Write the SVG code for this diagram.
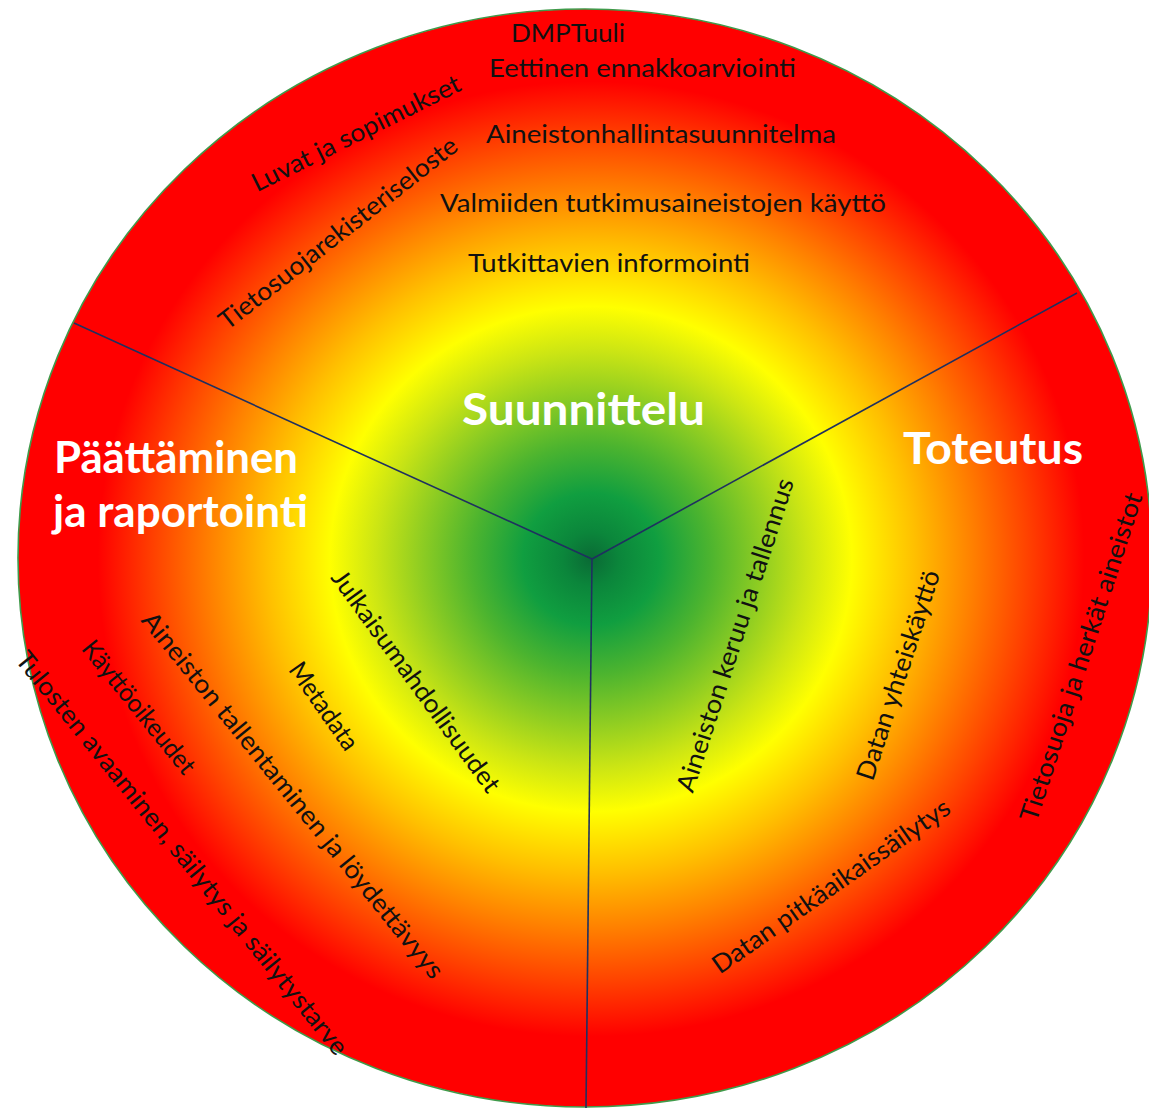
<svg xmlns="http://www.w3.org/2000/svg" width="1149" height="1108" viewBox="0 0 1149 1108">
  <defs>
    <radialGradient id="wheelGrad" gradientUnits="userSpaceOnUse" cx="0" cy="0" r="1" gradientTransform="translate(591 559) scale(567 549)">
      <stop offset="0" stop-color="#0a6a35"/>
      <stop offset="0.05" stop-color="#0b863b"/>
      <stop offset="0.12" stop-color="#109e40"/>
      <stop offset="0.21" stop-color="#4cb42f"/>
      <stop offset="0.3" stop-color="#8fcd22"/>
      <stop offset="0.38" stop-color="#cbe514"/>
      <stop offset="0.46" stop-color="#ffff00"/>
      <stop offset="0.57" stop-color="#ffc000"/>
      <stop offset="0.67" stop-color="#ff8200"/>
      <stop offset="0.77" stop-color="#ff4200"/>
      <stop offset="0.87" stop-color="#ff0000"/>
      <stop offset="1" stop-color="#ff0000"/>
    </radialGradient>
    <style>
      .t { font-family: Lato, "Open Sans", "Liberation Sans", sans-serif; font-size: 25.5px; fill: #111111; }
      .r { text-anchor: middle; }
      .title { font-family: Lato, "Open Sans", "Liberation Sans", sans-serif; font-size: 43px; font-weight: bold; fill: #ffffff; }
      .sep { stroke: #1f3060; stroke-width: 1.6; fill: none; }
    </style>
  </defs>

  <g id="wheel">
    <ellipse cx="585" cy="558" rx="567" ry="549" fill="url(#wheelGrad)" stroke="#3f9a4a" stroke-width="1.6"/>
  </g>

  <g id="connectors">
    <line class="sep" x1="592" y1="559" x2="74" y2="323"/>
    <line class="sep" x1="592" y1="559" x2="1077" y2="293"/>
    <line class="sep" x1="592" y1="559" x2="586" y2="1108"/>
  </g>

  <g id="suunnittelu">
    <text class="title" x="462" y="425" textLength="243" lengthAdjust="spacingAndGlyphs">Suunnittelu</text>
    <text class="t" x="511" y="42" textLength="114" lengthAdjust="spacingAndGlyphs">DMPTuuli</text>
    <text class="t" x="489" y="77" textLength="307" lengthAdjust="spacingAndGlyphs">Eettinen ennakkoarviointi</text>
    <text class="t" x="486" y="143" textLength="350" lengthAdjust="spacingAndGlyphs">Aineistonhallintasuunnitelma</text>
    <text class="t" x="440" y="212" textLength="446" lengthAdjust="spacingAndGlyphs">Valmiiden tutkimusaineistojen käyttö</text>
    <text class="t" x="468" y="272" textLength="282" lengthAdjust="spacingAndGlyphs">Tutkittavien informointi</text>
    <text class="t r" transform="translate(356 133) rotate(-26.5)" x="0" y="0" dy="0.35em" textLength="230" lengthAdjust="spacingAndGlyphs">Luvat ja sopimukset</text>
    <text class="t r" transform="translate(338 233) rotate(-38)" x="0" y="0" dy="0.35em" textLength="295" lengthAdjust="spacingAndGlyphs">Tietosuojarekisteriseloste</text>
  </g>

  <g id="toteutus">
    <text class="title" x="903" y="464" textLength="180" lengthAdjust="spacingAndGlyphs">Toteutus</text>
    <text class="t r" transform="translate(735 635) rotate(-72)" x="0" y="0" dy="0.35em" textLength="328" lengthAdjust="spacingAndGlyphs">Aineiston keruu ja tallennus</text>
    <text class="t r" transform="translate(898 675) rotate(-72)" x="0" y="0" dy="0.35em" textLength="219" lengthAdjust="spacingAndGlyphs">Datan yhteiskäyttö</text>
    <text class="t r" transform="translate(831 886) rotate(-35)" x="0" y="0" dy="0.35em" textLength="284" lengthAdjust="spacingAndGlyphs">Datan pitkäaikaissäilytys</text>
    <text class="t r" transform="translate(1081 657) rotate(-72)" x="0" y="0" dy="0.35em" textLength="344" lengthAdjust="spacingAndGlyphs">Tietosuoja ja herkät aineistot</text>
  </g>

  <g id="paattaminen">
    <text class="title" x="54" y="473" textLength="244" lengthAdjust="spacingAndGlyphs">Päättäminen</text>
    <text class="title" x="53" y="527" textLength="255" lengthAdjust="spacingAndGlyphs">ja raportointi</text>
    <text class="t r" transform="translate(416 681) rotate(54)" x="0" y="0" dy="0.35em" textLength="268" lengthAdjust="spacingAndGlyphs">Julkaisumahdollisuudet</text>
    <text class="t r" transform="translate(324 706) rotate(55)" x="0" y="0" dy="0.35em" textLength="101" lengthAdjust="spacingAndGlyphs">Metadata</text>
    <text class="t r" transform="translate(293 795) rotate(51)" x="0" y="0" dy="0.35em" textLength="463" lengthAdjust="spacingAndGlyphs">Aineiston tallentaminen ja löydettävyys</text>
    <text class="t r" transform="translate(139 707) rotate(51)" x="0" y="0" dy="0.35em" textLength="164" lengthAdjust="spacingAndGlyphs">Käyttöoikeudet</text>
    <text class="t r" transform="translate(182 853) rotate(51)" x="0" y="0" dy="0.35em" textLength="511" lengthAdjust="spacingAndGlyphs">Tulosten avaaminen, säilytys ja säilytystarve</text>
  </g>
</svg>
